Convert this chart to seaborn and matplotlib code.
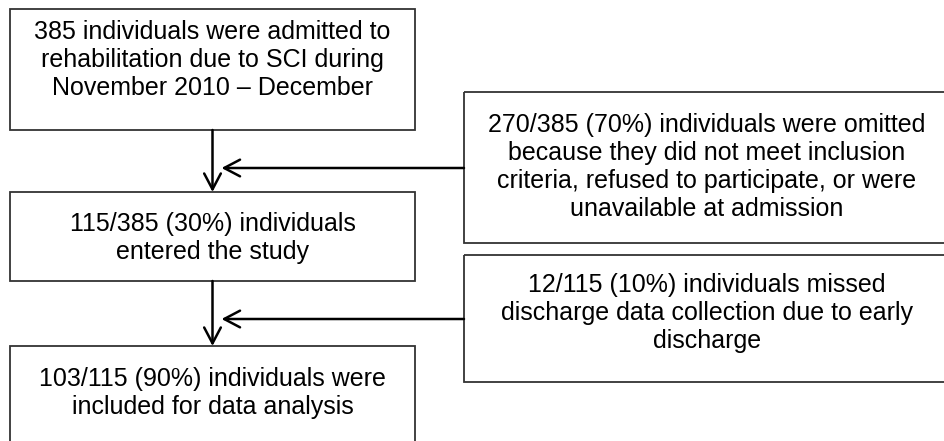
import matplotlib
matplotlib.use('Agg')
import matplotlib.pyplot as plt
import seaborn as sns
from matplotlib.patches import Rectangle

# ── Flowchart content ────────────────────────────────────────────────
main_texts = [
    "385 individuals were admitted to\nrehabilitation due to SCI during\nNovember 2010 \u2013 December",
    "115/385 (30%) individuals\nentered the study",
    "103/115 (90%) individuals were\nincluded for data analysis",
]
side_texts = [
    "270/385 (70%) individuals were omitted\nbecause they did not meet inclusion\ncriteria, refused to participate, or were\nunavailable at admission",
    "12/115 (10%) individuals missed\ndischarge data collection due to early\ndischarge",
]

# ── Layout (pixel coords, y down) ────────────────────────────────────
main_boxes = [(10, 9, 405, 121), (10, 192, 405, 89), (10, 346, 405, 96)]
main_text_y = [60, 238, 393]
side_boxes = [(464, 92, 485, 151), (464, 255, 485, 127)]
side_text_y = [167, 313]
side_text_x = 707
arrow_y = [168, 319]
center_x = 212.5
FS = 18

sns.set_theme(style="white")
plt.rcParams['font.family'] = ['Liberation Sans', 'DejaVu Sans']

fig = plt.figure(figsize=(9.44, 4.41), dpi=100)
ax = fig.add_axes([0, 0, 1, 1])
ax.set_xlim(0, 944)
ax.set_ylim(441, 0)
ax.axis('off')

edge = '#333333'
for (x, y, w, h), txt, ty in zip(main_boxes, main_texts, main_text_y):
    ax.add_patch(Rectangle((x, y), w, h, fill=False, ec=edge, lw=1.3))
    ax.text(x + w / 2, ty, txt, ha='center', va='center',
            fontsize=FS, color='black', linespacing=1.2)

for (x, y, w, h), txt, ty in zip(side_boxes, side_texts, side_text_y):
    ax.add_patch(Rectangle((x, y), w, h, fill=False, ec=edge, lw=1.3))
    ax.text(side_text_x, ty, txt, ha='center', va='center',
            fontsize=FS, color='black', linespacing=1.2)

head = '->,head_length=0.95,head_width=0.5'

# vertical arrows between main boxes
for (x0, y0, w0, h0), (x1, y1, w1, h1) in zip(main_boxes[:-1], main_boxes[1:]):
    ax.annotate('', xy=(center_x, y1), xytext=(center_x, y0 + h0),
                arrowprops=dict(arrowstyle=head, lw=1.8, color='black',
                                shrinkA=0, shrinkB=0))

# horizontal arrows from side boxes
for ay, (x, y, w, h) in zip(arrow_y, side_boxes):
    ax.annotate('', xy=(center_x + 9, ay), xytext=(x, ay),
                arrowprops=dict(arrowstyle=head, lw=1.8, color='black',
                                shrinkA=0, shrinkB=0))

plt.savefig('out.png', dpi=100)
plt.close()
